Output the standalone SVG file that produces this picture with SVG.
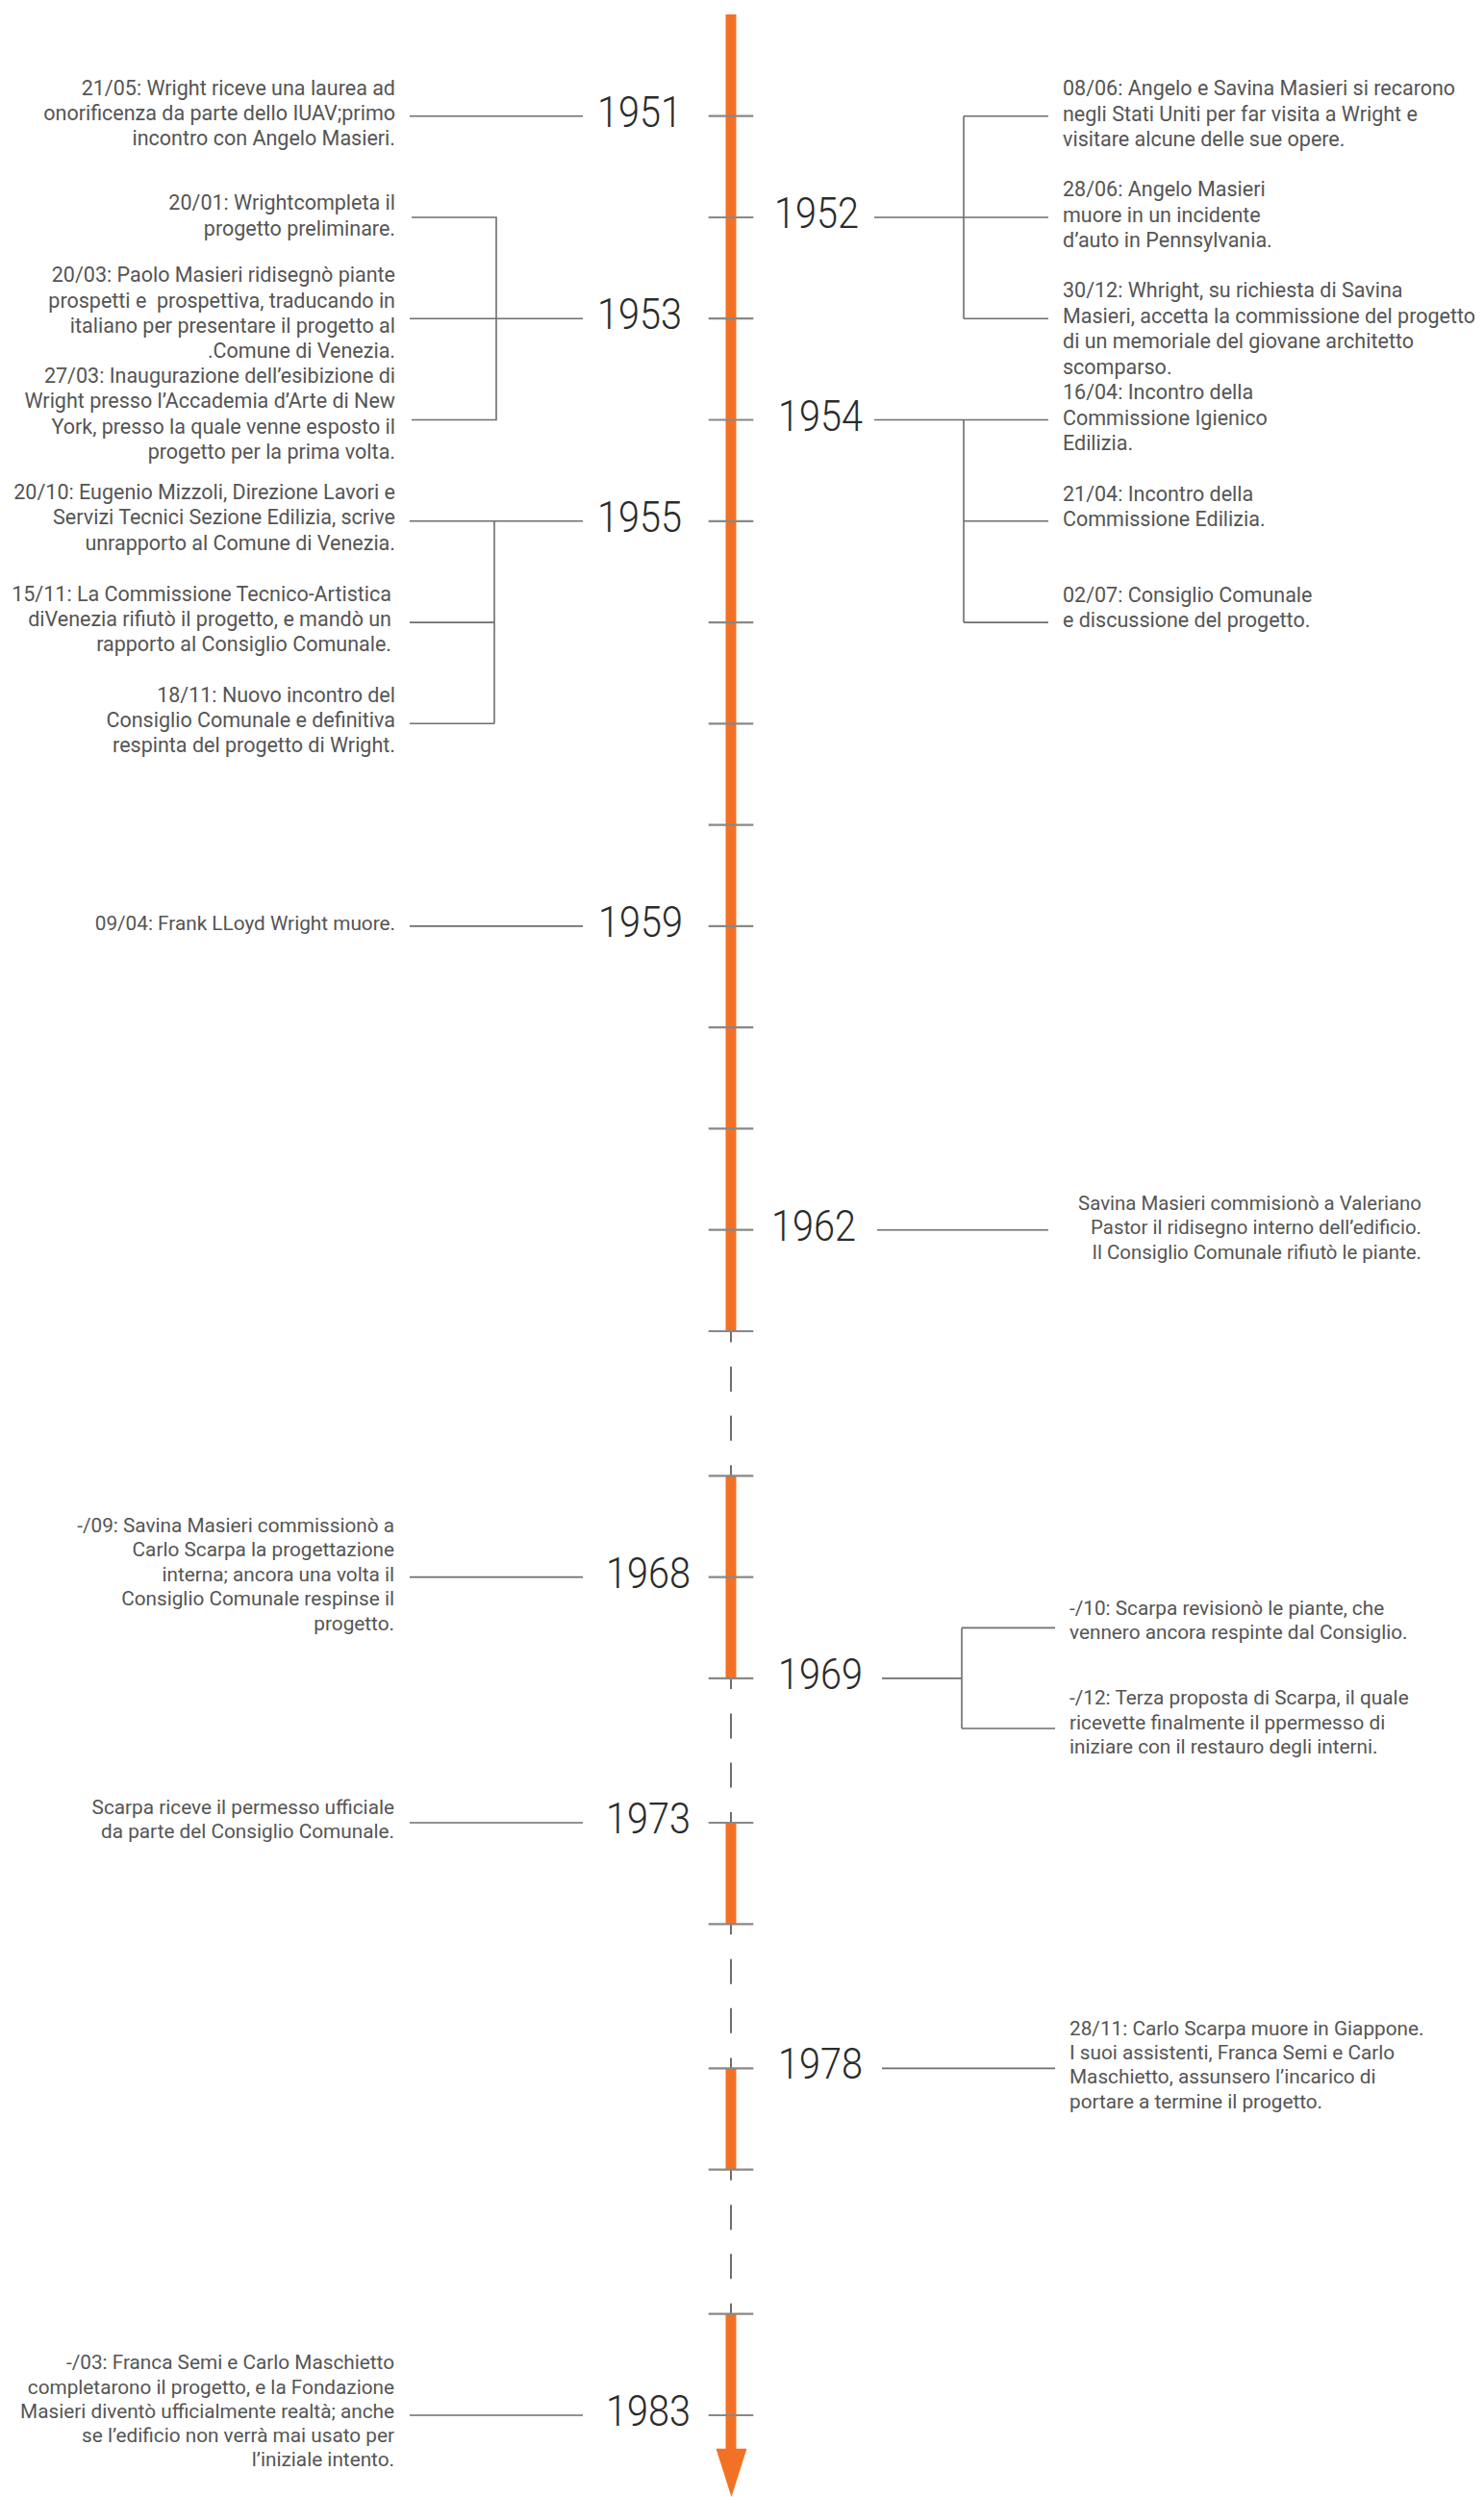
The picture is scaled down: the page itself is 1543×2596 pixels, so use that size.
<svg xmlns="http://www.w3.org/2000/svg" width="1543" height="2596" viewBox="0 0 1543 2596">
<style>
.t{font-family:Roboto,"Liberation Sans",sans-serif;font-size:21.5px;fill:#555555}
.s{font-size:20.75px}
.s2{font-size:20.4px}
.l{text-anchor:end}
.yr{font-family:Roboto,"Liberation Sans",sans-serif;font-weight:300;font-size:45px;fill:#2b2b2b}
.c{stroke:#6e6e6e;stroke-width:1.6;fill:none}
.tk{stroke:#888888;stroke-width:2.2}
.ax{stroke:#F37124;stroke-width:11}
.ds{stroke:#4a4a4a;stroke-width:1.6}
</style>
<rect width="1543" height="2596" fill="#ffffff"/>
<g id="axis">
  <g id="dashes">
    <line class="ds" x1="760" y1="1384" x2="760" y2="1395.4"/>
    <line class="ds" x1="760" y1="1420.7" x2="760" y2="1446.7"/>
    <line class="ds" x1="760" y1="1471.7" x2="760" y2="1497.7"/>
    <line class="ds" x1="760" y1="1523.3" x2="760" y2="1534.3"/>
    <line class="ds" x1="760" y1="1744.9" x2="760" y2="1755.9"/>
    <line class="ds" x1="760" y1="1781.6" x2="760" y2="1807.6"/>
    <line class="ds" x1="760" y1="1832.6" x2="760" y2="1858.6"/>
    <line class="ds" x1="760" y1="1884" x2="760" y2="1895"/>
    <line class="ds" x1="760" y1="2000.3" x2="760" y2="2011.3"/>
    <line class="ds" x1="760" y1="2036.8" x2="760" y2="2062.8"/>
    <line class="ds" x1="760" y1="2087.8" x2="760" y2="2113.8"/>
    <line class="ds" x1="760" y1="2139.4" x2="760" y2="2150.4"/>
    <line class="ds" x1="760" y1="2255.7" x2="760" y2="2266.7"/>
    <line class="ds" x1="760" y1="2292.3" x2="760" y2="2318.3"/>
    <line class="ds" x1="760" y1="2343.3" x2="760" y2="2369.3"/>
    <line class="ds" x1="760" y1="2394.7" x2="760" y2="2405.7"/>
  </g>
  <g id="orange">
    <line class="ax" x1="760" y1="15" x2="760" y2="1384"/>
    <line class="ax" x1="760" y1="1534.3" x2="760" y2="1744.9"/>
    <line class="ax" x1="760" y1="1895" x2="760" y2="2000.3"/>
    <line class="ax" x1="760" y1="2150.4" x2="760" y2="2255.7"/>
    <line class="ax" x1="760" y1="2405.7" x2="760" y2="2550"/>
    <polygon points="744.5,2545.7 776.5,2545.7 760.5,2596" fill="#F37124"/>
  </g>
  <g id="ticks">
    <line class="tk" x1="736.7" y1="120.7" x2="783.3" y2="120.7"/>
    <line class="tk" x1="736.7" y1="226" x2="783.3" y2="226"/>
    <line class="tk" x1="736.7" y1="331.2" x2="783.3" y2="331.2"/>
    <line class="tk" x1="736.7" y1="436.5" x2="783.3" y2="436.5"/>
    <line class="tk" x1="736.7" y1="541.8" x2="783.3" y2="541.8"/>
    <line class="tk" x1="736.7" y1="647.1" x2="783.3" y2="647.1"/>
    <line class="tk" x1="736.7" y1="752.3" x2="783.3" y2="752.3"/>
    <line class="tk" x1="736.7" y1="857.6" x2="783.3" y2="857.6"/>
    <line class="tk" x1="736.7" y1="962.9" x2="783.3" y2="962.9"/>
    <line class="tk" x1="736.7" y1="1068.1" x2="783.3" y2="1068.1"/>
    <line class="tk" x1="736.7" y1="1173.4" x2="783.3" y2="1173.4"/>
    <line class="tk" x1="736.7" y1="1278.7" x2="783.3" y2="1278.7"/>
    <line class="tk" x1="736.7" y1="1384" x2="783.3" y2="1384"/>
    <line class="tk" x1="736.7" y1="1534.3" x2="783.3" y2="1534.3"/>
    <line class="tk" x1="736.7" y1="1639.6" x2="783.3" y2="1639.6"/>
    <line class="tk" x1="736.7" y1="1744.9" x2="783.3" y2="1744.9"/>
    <line class="tk" x1="736.7" y1="1895" x2="783.3" y2="1895"/>
    <line class="tk" x1="736.7" y1="2000.3" x2="783.3" y2="2000.3"/>
    <line class="tk" x1="736.7" y1="2150.4" x2="783.3" y2="2150.4"/>
    <line class="tk" x1="736.7" y1="2255.7" x2="783.3" y2="2255.7"/>
    <line class="tk" x1="736.7" y1="2405.7" x2="783.3" y2="2405.7"/>
    <line class="tk" x1="736.7" y1="2511" x2="783.3" y2="2511"/>
  </g>
</g>
<g id="connectors">
  <line class="c" x1="426" y1="120.7" x2="606" y2="120.7"/>
  <path class="c" d="M426,331.2H606M428,226H516V436.5H428"/>
  <path class="c" d="M426,541.8H606M514,541.8V752.3M426,647.1H514M426,752.3H514"/>
  <line class="c" x1="426" y1="962.9" x2="606" y2="962.9"/>
  <line class="c" x1="426" y1="1639.6" x2="606" y2="1639.6"/>
  <line class="c" x1="426" y1="1895" x2="606" y2="1895"/>
  <line class="c" x1="426" y1="2511" x2="606" y2="2511"/>
  <path class="c" d="M909,226H1090M1002,120.7V331.2M1002,120.7H1090M1002,331.2H1090"/>
  <path class="c" d="M909,436.5H1090M1002,436.5V647.1M1002,541.8H1090M1002,647.1H1090"/>
  <line class="c" x1="912" y1="1278.7" x2="1090" y2="1278.7"/>
  <path class="c" d="M917,1744.9H1000M1000,1692.4V1797M1000,1692.4H1097M1000,1797H1097"/>
  <line class="c" x1="917" y1="2150.4" x2="1097" y2="2150.4"/>
</g>
<g id="years">
  <text id="y1951" class="yr" x="621" y="131.7" textLength="88" lengthAdjust="spacingAndGlyphs">1951</text>
  <text id="y1952" class="yr" x="805" y="237" textLength="88" lengthAdjust="spacingAndGlyphs">1952</text>
  <text id="y1953" class="yr" x="621" y="342.2" textLength="88" lengthAdjust="spacingAndGlyphs">1953</text>
  <text id="y1954" class="yr" x="809" y="447.5" textLength="88" lengthAdjust="spacingAndGlyphs">1954</text>
  <text id="y1955" class="yr" x="621" y="552.8" textLength="88" lengthAdjust="spacingAndGlyphs">1955</text>
  <text id="y1959" class="yr" x="622" y="973.9" textLength="88" lengthAdjust="spacingAndGlyphs">1959</text>
  <text id="y1962" class="yr" x="802" y="1289.7" textLength="88" lengthAdjust="spacingAndGlyphs">1962</text>
  <text id="y1968" class="yr" x="630" y="1650.6" textLength="88" lengthAdjust="spacingAndGlyphs">1968</text>
  <text id="y1969" class="yr" x="809" y="1755.9" textLength="88" lengthAdjust="spacingAndGlyphs">1969</text>
  <text id="y1973" class="yr" x="630" y="1906" textLength="88" lengthAdjust="spacingAndGlyphs">1973</text>
  <text id="y1978" class="yr" x="809" y="2161.4" textLength="88" lengthAdjust="spacingAndGlyphs">1978</text>
  <text id="y1983" class="yr" x="630" y="2522" textLength="88" lengthAdjust="spacingAndGlyphs">1983</text>
</g>
<g id="e-1951-2105">
  <text class="t l"><tspan x="411" y="98.5">21/05: Wright riceve una laurea ad</tspan><tspan x="411" y="125">onorificenza da parte dello IUAV;primo</tspan><tspan x="411" y="151.2">incontro con Angelo Masieri.</tspan></text>
</g>
<g id="e-1953-2001">
  <text class="t l"><tspan x="411" y="218.3">20/01: Wrightcompleta il</tspan><tspan x="411" y="244.5">progetto preliminare.</tspan></text>
</g>
<g id="e-1953-2003">
  <text class="t l" xml:space="preserve"><tspan x="411" y="293.3">20/03: Paolo Masieri ridisegnò piante</tspan><tspan x="411" y="319.5">prospetti e  prospettiva, traducando in</tspan><tspan x="411" y="345.7">italiano per presentare il progetto al</tspan><tspan x="411" y="371.9">.Comune di Venezia.</tspan></text>
</g>
<g id="e-1953-2703">
  <text class="t l"><tspan x="411" y="398.1">27/03: Inaugurazione dell’esibizione di</tspan><tspan x="411" y="424.3">Wright presso l’Accademia d’Arte di New</tspan><tspan x="411" y="450.5">York, presso la quale venne esposto il</tspan><tspan x="411" y="476.7">progetto per la prima volta.</tspan></text>
</g>
<g id="e-1955-2010">
  <text class="t l"><tspan x="411" y="519.3">20/10: Eugenio Mizzoli, Direzione Lavori e</tspan><tspan x="411" y="545.4">Servizi Tecnici Sezione Edilizia, scrive</tspan><tspan x="411" y="571.6">unrapporto al Comune di Venezia.</tspan></text>
</g>
<g id="e-1955-1511">
  <text class="t l"><tspan x="407" y="625">15/11: La Commissione Tecnico-Artistica</tspan><tspan x="407" y="651.2">diVenezia rifiutò il progetto, e mandò un</tspan><tspan x="407" y="677.4">rapporto al Consiglio Comunale.</tspan></text>
</g>
<g id="e-1955-1811">
  <text class="t l"><tspan x="411" y="730">18/11: Nuovo incontro del</tspan><tspan x="411" y="756.2">Consiglio Comunale e definitiva</tspan><tspan x="411" y="782.4">respinta del progetto di Wright.</tspan></text>
</g>
<g id="e-1959-0904">
  <text class="t s l"><tspan x="411" y="966.5">09/04: Frank LLoyd Wright muore.</tspan></text>
</g>
<g id="e-1968-09">
  <text class="t s l"><tspan x="410" y="1592.9">-/09: Savina Masieri commissionò a</tspan><tspan x="410" y="1618.3">Carlo Scarpa la progettazione</tspan><tspan x="410" y="1643.7">interna; ancora una volta il</tspan><tspan x="410" y="1669.1">Consiglio Comunale respinse il</tspan><tspan x="410" y="1694.5">progetto.</tspan></text>
</g>
<g id="e-1973">
  <text class="t s l"><tspan x="410" y="1886.3">Scarpa riceve il permesso ufficiale</tspan><tspan x="410" y="1911.2">da parte del Consiglio Comunale.</tspan></text>
</g>
<g id="e-1983-03">
  <text class="t s l"><tspan x="410" y="2463.3">-/03: Franca Semi e Carlo Maschietto</tspan><tspan x="410" y="2488.5">completarono il progetto, e la Fondazione</tspan><tspan x="410" y="2513.8">Masieri diventò ufficialmente realtà; anche</tspan><tspan x="410" y="2539.1">se l’edificio non verrà mai usato per</tspan><tspan x="410" y="2564.3">l’iniziale intento.</tspan></text>
</g>
<g id="e-1952-0806">
  <text class="t"><tspan x="1105" y="99">08/06: Angelo e Savina Masieri si recarono</tspan><tspan x="1105" y="125.6">negli Stati Uniti per far visita a Wright e</tspan><tspan x="1105" y="151.8">visitare alcune delle sue opere.</tspan></text>
</g>
<g id="e-1952-2806">
  <text class="t"><tspan x="1105" y="204">28/06: Angelo Masieri</tspan><tspan x="1105" y="230.5">muore in un incidente</tspan><tspan x="1105" y="256.7">d’auto in Pennsylvania.</tspan></text>
</g>
<g id="e-1952-3012">
  <text class="t"><tspan x="1105" y="309">30/12: Whright, su richiesta di Savina</tspan><tspan x="1105" y="335.6">Masieri, accetta la commissione del progetto</tspan><tspan x="1105" y="362.2">di un memoriale del giovane architetto</tspan><tspan x="1105" y="388.6">scomparso.</tspan></text>
</g>
<g id="e-1954-1604">
  <text class="t"><tspan x="1105" y="415.2">16/04: Incontro della</tspan><tspan x="1105" y="441.6">Commissione Igienico</tspan><tspan x="1105" y="468">Edilizia.</tspan></text>
</g>
<g id="e-1954-2104">
  <text class="t"><tspan x="1105" y="521">21/04: Incontro della</tspan><tspan x="1105" y="547">Commissione Edilizia.</tspan></text>
</g>
<g id="e-1954-0207">
  <text class="t"><tspan x="1105" y="626">02/07: Consiglio Comunale</tspan><tspan x="1105" y="652">e discussione del progetto.</tspan></text>
</g>
<g id="e-1962">
  <text class="t s2 l"><tspan x="1478" y="1257.7">Savina Masieri commisionò a Valeriano</tspan><tspan x="1478" y="1283.3">Pastor il ridisegno interno dell’edificio.</tspan><tspan x="1478" y="1309">Il Consiglio Comunale rifiutò le piante.</tspan></text>
</g>
<g id="e-1969-10">
  <text class="t s"><tspan x="1112" y="1678.6">-/10: Scarpa revisionò le piante, che</tspan><tspan x="1112" y="1704">vennero ancora respinte dal Consiglio.</tspan></text>
</g>
<g id="e-1969-12">
  <text class="t s"><tspan x="1112" y="1772.3">-/12: Terza proposta di Scarpa, il quale</tspan><tspan x="1112" y="1797.6">ricevette finalmente il ppermesso di</tspan><tspan x="1112" y="1822.8">iniziare con il restauro degli interni.</tspan></text>
</g>
<g id="e-1978-2811">
  <text class="t s"><tspan x="1112" y="2116">28/11: Carlo Scarpa muore in Giappone.</tspan><tspan x="1112" y="2141.2">I suoi assistenti, Franca Semi e Carlo</tspan><tspan x="1112" y="2166.4">Maschietto, assunsero l’incarico di</tspan><tspan x="1112" y="2191.6">portare a termine il progetto.</tspan></text>
</g>
</svg>
